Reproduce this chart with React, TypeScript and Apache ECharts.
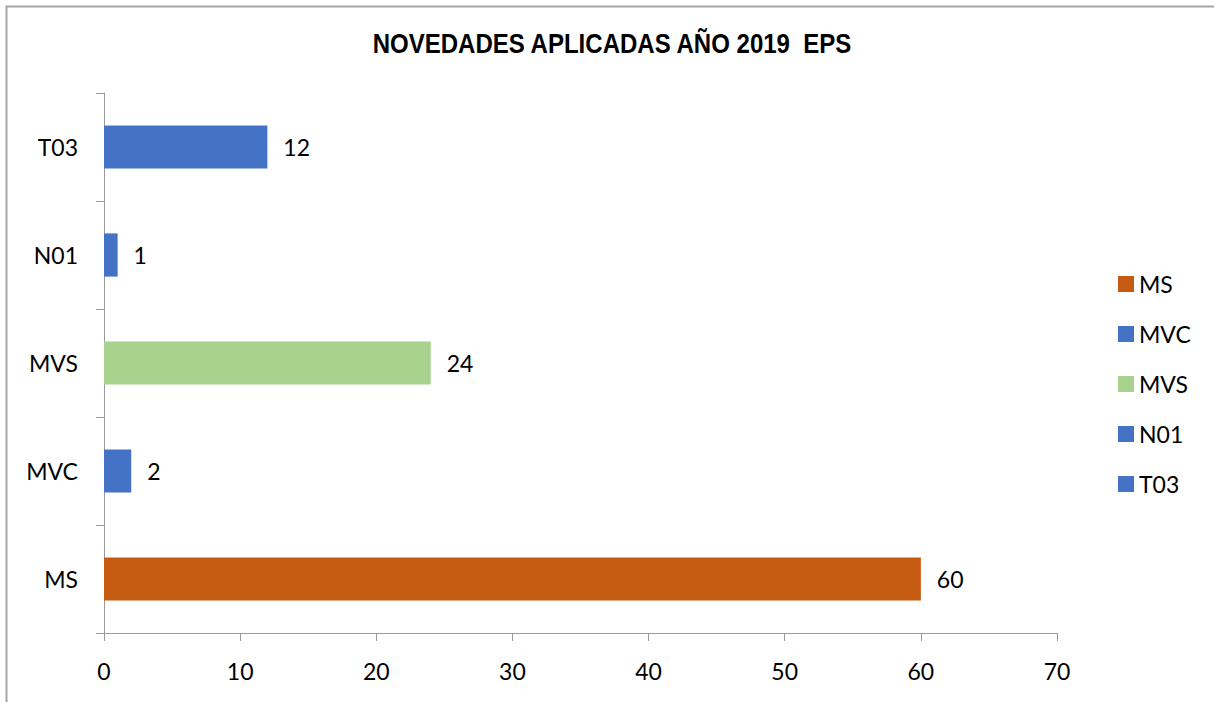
import React, { useEffect, useRef } from "react";
import * as echarts from "echarts";

const categories = ["MS", "MVC", "MVS", "N01", "T03"];
const values = [60, 2, 24, 1, 12];
const colors = ["#C55A11", "#4472C4", "#A9D18E", "#4472C4", "#4472C4"];
const xTicks = { min: 0, max: 70, interval: 10 };
const titleText = "NOVEDADES APLICADAS AÑO 2019  EPS";

const FONT = "Lato, 'Open Sans', 'Noto Sans', sans-serif";
const FS = 23;

export default function App() {
  const ref = useRef<HTMLDivElement>(null);
  useEffect(() => {
    if (!ref.current) return;
    const chart = echarts.init(ref.current, undefined, { renderer: "svg" });
    const series = categories.map((name, i) => ({
      name,
      type: "bar",
      stack: "all",
      barWidth: "40%",
      itemStyle: { color: colors[i] },
      data: categories.map((_, j) => (j === i ? values[i] : null)),
      label: {
        show: true,
        position: "right",
        distance: 16,
        color: "#000",
        fontFamily: FONT,
        fontSize: FS,
        formatter: (p: any) => (p.value == null ? "" : String(p.value)),
      },
    }));
    chart.setOption({
      animation: false,
      backgroundColor: "#fff",
      graphic: [
        {
          type: "rect",
          shape: { x: 6.5, y: 6.5, width: 1400, height: 900 },
          style: { fill: "none", stroke: "#a6a6a6", lineWidth: 2 },
          silent: true,
        },
        {
          type: "text",
          x: 612,
          y: 43,
          scaleX: 0.89,
          style: {
            text: titleText,
            fontFamily: "'Liberation Sans Narrow', 'Liberation Sans', Arial, sans-serif",
            fontWeight: "bold",
            fontSize: 27,
            fill: "#000",
            align: "center",
            verticalAlign: "middle",
          },
        },
      ],
      legend: {
        orient: "vertical",
        left: 1113,
        top: 267,
        itemWidth: 16,
        itemHeight: 16,
        itemGap: 26,
        icon: "rect",
        data: categories,
        textStyle: { fontFamily: FONT, fontSize: FS, lineHeight: 24, color: "#000", padding: [0, 0, 0, 0] },
      },
      grid: { left: 104, right: 157, top: 93, bottom: 69, containLabel: false },
      xAxis: {
        type: "value",
        min: xTicks.min,
        max: xTicks.max,
        interval: xTicks.interval,
        splitLine: { show: false },
        axisLine: { show: true, lineStyle: { color: "#9a9a9a", width: 1 } },
        axisTick: { show: true, length: 8, lineStyle: { color: "#9a9a9a" } },
        axisLabel: { fontFamily: FONT, fontSize: FS, color: "#000", margin: 26 },
      },
      yAxis: {
        type: "category",
        data: categories,
        axisLine: { show: true, lineStyle: { color: "#9a9a9a", width: 1 } },
        axisTick: { show: true, length: 8, lineStyle: { color: "#9a9a9a" } },
        axisLabel: { fontFamily: FONT, fontSize: FS, color: "#000", margin: 26 },
      },
      series,
    });
    return () => chart.dispose();
  }, []);
  return (
    <div
      ref={ref}
      style={{ position: "fixed", left: 0, top: 0, width: 1214, height: 702, background: "#fff" }}
    />
  );
}
